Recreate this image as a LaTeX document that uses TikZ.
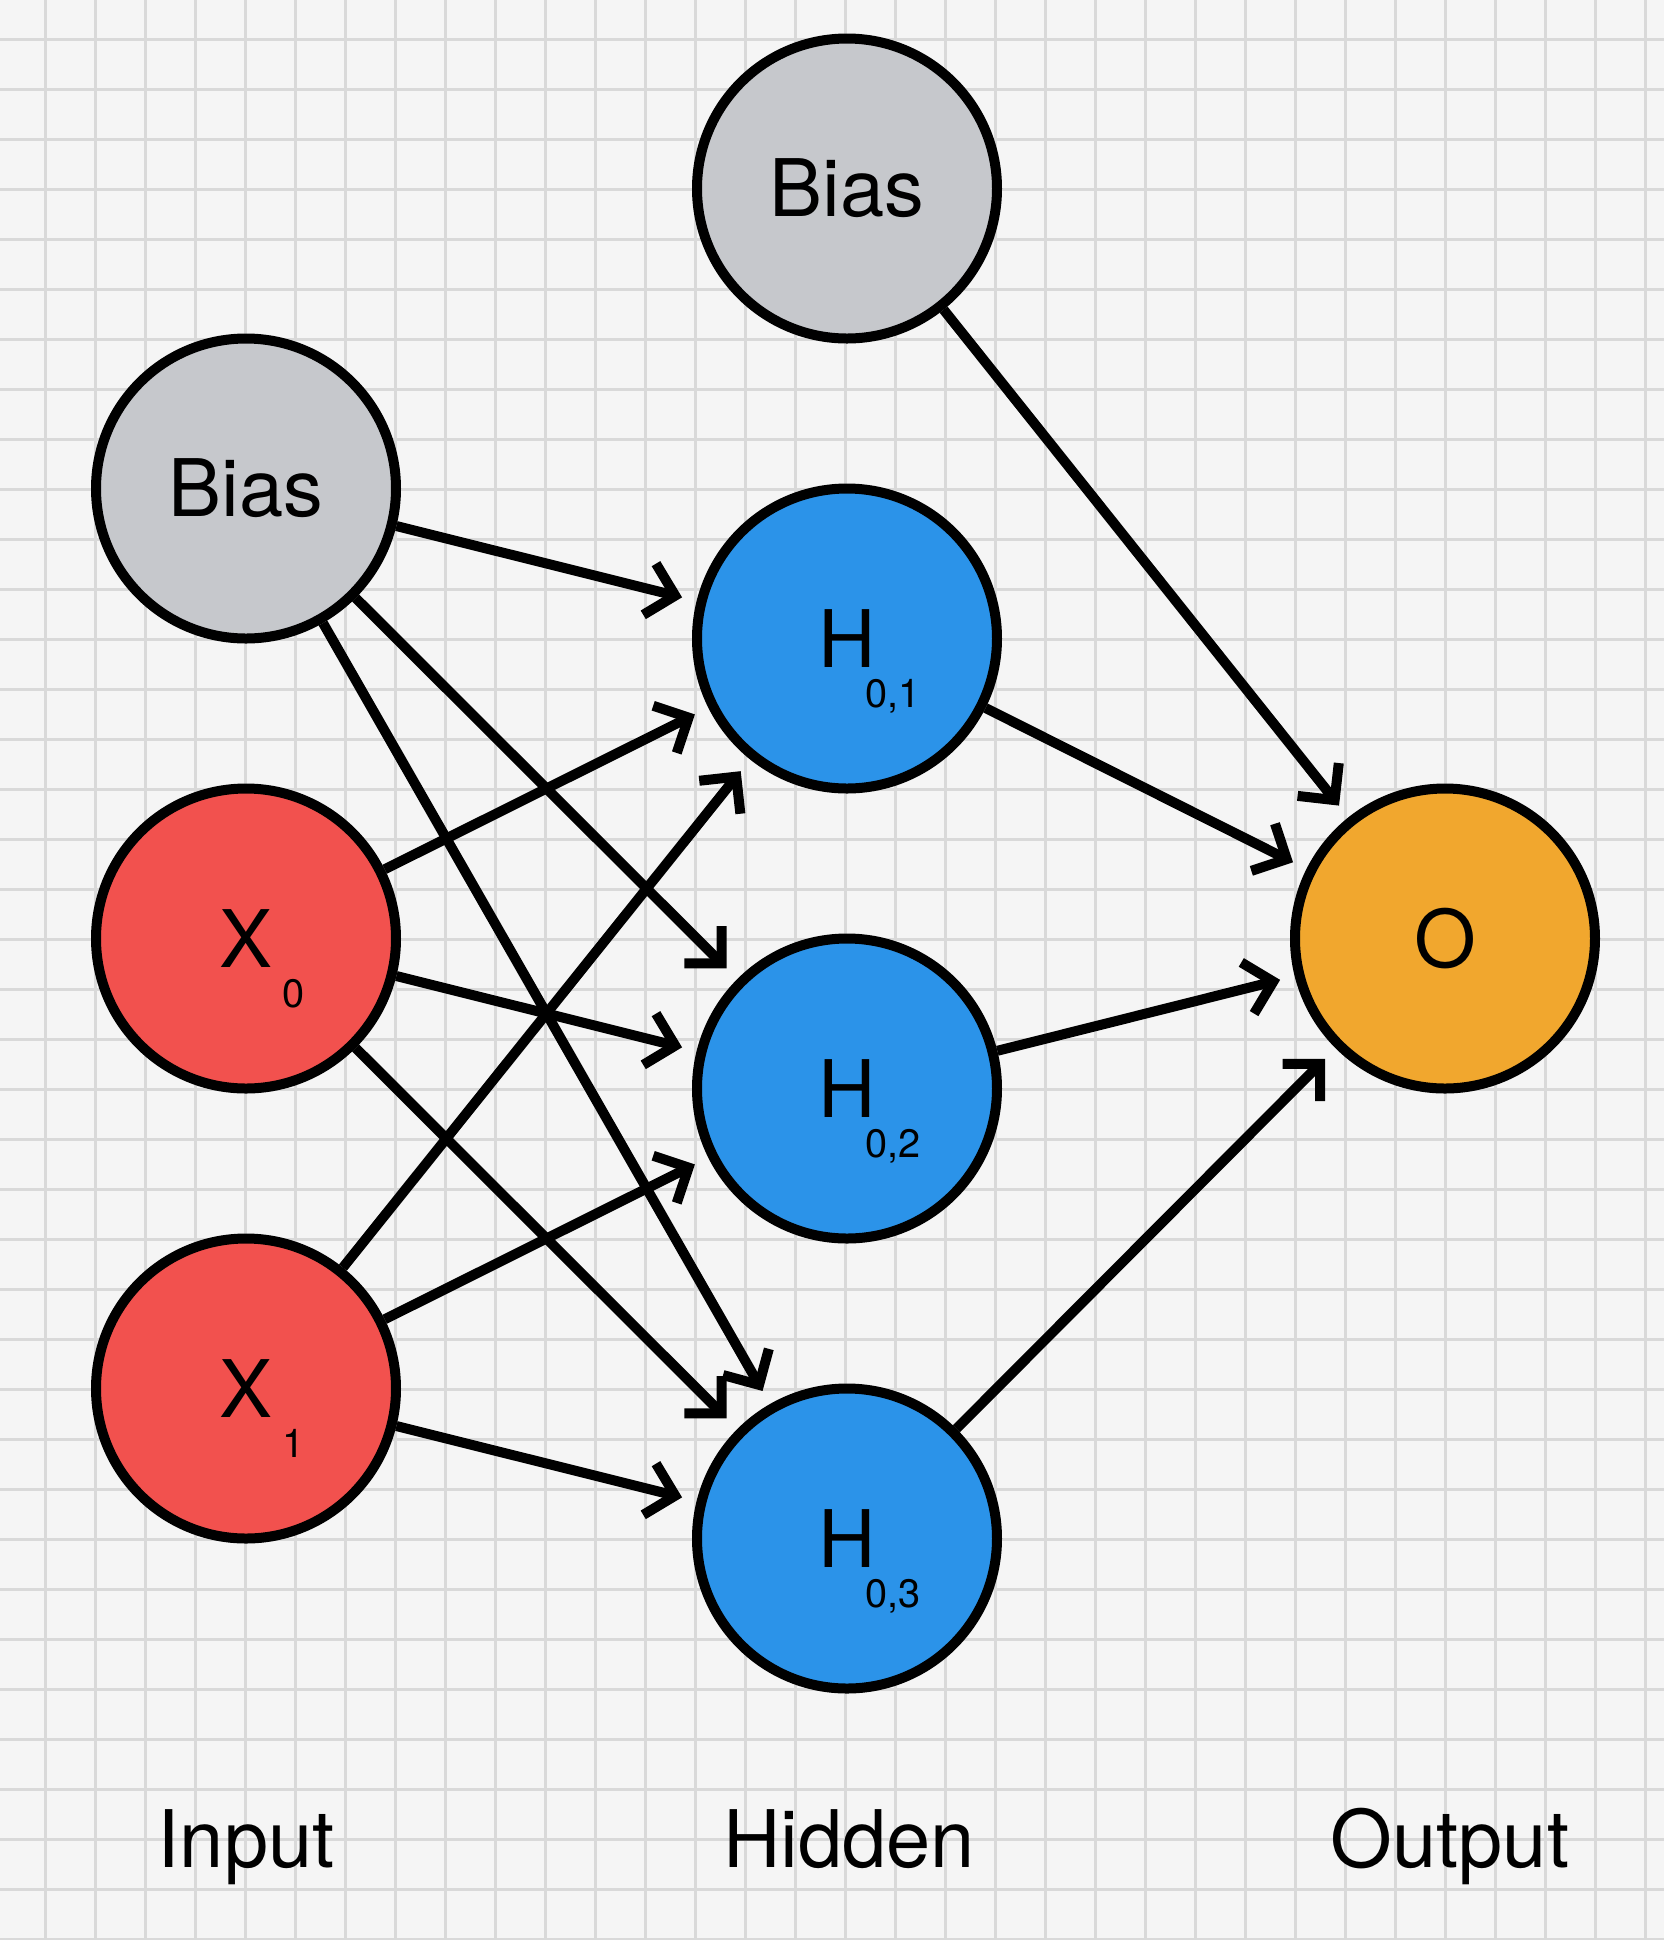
\documentclass[tikz,border=0pt]{standalone}
\usepackage{fontspec}
\setmainfont{TeX Gyre Heros}
\usetikzlibrary{arrows.meta}

\definecolor{paper}{HTML}{F5F5F5}
\definecolor{gridgray}{HTML}{D9D9D9}
\definecolor{biasgray}{HTML}{C6C8CC}
\definecolor{inred}{HTML}{F2514E}
\definecolor{hidblue}{HTML}{2B93E9}
\definecolor{outorange}{HTML}{F1A72E}

% subscript set low and to the right, without moving the main letter
\newcommand{\lowsub}[2][0pt]{\rlap{\hspace{#1}\raisebox{-4mm}[0pt][0pt]{\fontsize{11.3pt}{13pt}\selectfont #2}}}

\begin{document}
\begin{tikzpicture}[x=0.1mm,y=-0.1mm,
    neuron/.style={circle, draw=black, line width=1mm, minimum size=30mm, inner sep=0pt,
      font=\fontsize{22.6pt}{27pt}\selectfont},
    layername/.style={anchor=base, font=\fontsize{22.6pt}{27pt}\selectfont},
    gridline/.style={gridgray, line width=0.3mm},
    wire/.style={line width=1mm, shorten >=1.5mm, -{Straight Barb[length=7.5pt,width=15pt]}}]
    \useasboundingbox (0,0) rectangle (1664,1940);
    \fill[paper] (0,0) rectangle (1664,1940);
    % grid paper
    \foreach \gx in {45,95,...,1645} \draw[gridline] (\gx,0) -- (\gx,1940);
    \foreach \gy in {39.5,89.5,...,1939.5} \draw[gridline] (0,\gy) -- (1664,\gy);
    % input layer
    \node[neuron, fill=biasgray] (bi) at (246,488.5) {Bias};
    \node[neuron, fill=inred] (x0) at (246,938.5) {X\lowsub[1mm]{0}};
    \node[neuron, fill=inred] (x1) at (246,1388.5) {X\lowsub[1mm]{1}};
    % hidden layer
    \node[neuron, fill=biasgray] (bh) at (847,188.5) {Bias};
    \node[neuron, fill=hidblue] (h1) at (847,638.5) {H\lowsub[-1mm]{0,1}};
    \node[neuron, fill=hidblue] (h2) at (847,1088.5) {H\lowsub[-1mm]{0,2}};
    \node[neuron, fill=hidblue] (h3) at (847,1538.5) {H\lowsub[-1mm]{0,3}};
    % output layer
    \node[neuron, fill=outorange] (o) at (1445,938.5) {O};
    % input to hidden
    \foreach \src in {bi,x0,x1}
      \foreach \dst in {h1,h2,h3}
        \draw[wire] (\src) -- (\dst);
    % hidden to output
    \foreach \src in {bh,h1,h2,h3}
      \draw[wire] (\src) -- (o);
    % layer names
    \node[layername] (lin) at (246,1867) {Input};
    \node[layername] (lhid) at (849,1867) {Hidden};
    \node[layername] (lout) at (1450,1867) {Output};
\end{tikzpicture}
\end{document}
